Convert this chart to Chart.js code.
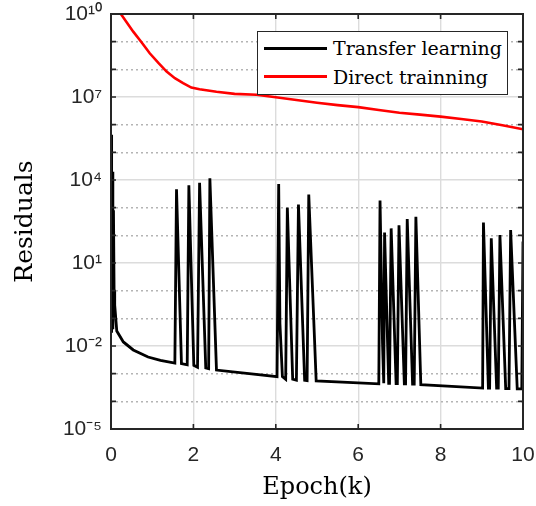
<!DOCTYPE html>
<html>
<head>
<meta charset="utf-8">
<script src="https://cdn.jsdelivr.net/npm/chart.js@4.4.1/dist/chart.umd.min.js"></script>
<style>
  body { margin: 0; background: #fff; }
  #wrap { position: relative; width: 536px; height: 506px; }
  #legend {
    position: absolute; left: 257px; top: 31px; width: 249px; height: 60px;
    border: 1.6px solid #262626; background: #fff; padding-top: 2px;
    font-family: "DejaVu Serif", serif; font-size: 19px; color: #000;
  }
  #legend .row { display: flex; align-items: center; height: 28.4px; }
  #legend .swatch { width: 63px; height: 0; border-top: 3px solid; margin: 0 6px 0 6px; }
</style>
</head>
<body>
<div id="wrap">
  <canvas id="chart" width="536" height="506"></canvas>
  <div id="legend"></div>
</div>
<script>
// series names / colours
const seriesNames = ['Transfer learning', 'Direct trainning'];
const seriesColors = ['#000000', '#ff0000'];

// Transfer learning: epoch (k) and residual
const transferEpoch = [
  0, 0.015, 0.03, 0.045, 0.06, 0.075, 0.09, 0.14, 0.30, 0.54, 0.90, 1.20, 1.55,
  1.59, 1.71, 1.85, 1.89, 2.01, 2.10, 2.15, 2.30, 2.37, 2.40, 2.56,
  4.03, 4.07, 4.10, 4.16, 4.24, 4.28, 4.41, 4.50, 4.55, 4.70, 4.76, 4.80, 4.98,
  6.50, 6.53, 6.59, 6.62, 6.64, 6.74, 6.76, 6.80, 6.92, 6.95, 6.99, 7.12, 7.15, 7.19, 7.32, 7.36, 7.40, 7.52,
  9.02, 9.04, 9.16, 9.19, 9.23, 9.36, 9.40, 9.44, 9.58, 9.66, 9.70, 9.86, 9.97, 10.0
];
const transferResidual = [
  4.3e5, 3.0e-2, 2.0e4, 4.0e-2, 8.0e2, 1.0, 3.0e-1, 3.5e-2, 1.4e-2, 7.2e-3, 4.0e-3, 3.0e-3, 2.4e-3,
  4.6e3, 2.3e-3, 2.1e-3, 6.5e3, 2.0e-3, 1.7e-3, 7.9e3, 1.6e-3, 1.5e-3, 1.15e4, 1.35e-3,
  7.8e-4, 7.2e3, 6.6e-2, 7.9e-4, 6.3e-4, 1.0e3, 6.3e-4, 5.8e-4, 1.3e3, 5.8e-4, 5.6e-4, 3.0e3, 5.5e-4,
  4.3e-4, 1.8e3, 1.3e-2, 4.5e-4, 126, 4.5e-4, 4.5e-4, 178, 4.4e-4, 4.4e-4, 229, 4.3e-4, 4.3e-4, 389, 4.2e-4, 4.2e-4, 468, 4.0e-4,
  3.0e-4, 288, 3.0e-4, 3.0e-4, 78, 3.0e-4, 3.0e-4, 102, 2.9e-4, 2.9e-4, 155, 2.8e-4, 2.8e-4, 60
];

// Direct training: epoch (k) and residual
const directEpoch = [
  0, 0.24, 0.54, 0.75, 0.94, 1.15, 1.35, 1.55, 1.75, 1.95, 2.15, 2.56, 3.0, 3.53,
  4.0, 4.5, 5.0, 5.5, 6.0, 6.5, 7.0, 7.5, 8.0, 8.5, 9.0, 9.5, 10.0
];
const directResidual = [
  3.2e10, 1.0e10, 2.3e9, 9.1e8, 3.8e8, 1.7e8, 8.3e7, 4.8e7, 3.2e7, 2.2e7, 1.9e7, 1.55e7, 1.3e7, 1.2e7,
  9.8e6, 7.8e6, 6.2e6, 5.1e6, 4.3e6, 3.4e6, 2.7e6, 2.3e6, 1.95e6, 1.6e6, 1.3e6, 9.5e5, 6.8e5
];

// axis ticks
const xTicks = [0, 2, 4, 6, 8, 10];
const yExponents = [-5, -4, -3, -2, -1, 0, 1, 2, 3, 4, 5, 6, 7, 8, 9, 10];
const yLabelled = [-5, -2, 1, 4, 7, 10];

const supMap = {'-': '\u207B', '0': '\u2070', '1': '\u00B9', '2': '\u00B2', '3': '\u00B3', '4': '\u2074',
  '5': '\u2075', '6': '\u2076', '7': '\u2077', '8': '\u2078', '9': '\u2079'};
function sup(n) { return String(n).split('').map(c => supMap[c]).join(''); }

function zip(xs, ys) { return xs.map((x, i) => ({x: x, y: ys[i]})); }

const axisColor = '#262626';

// frame around plot with inward ticks
const boxPlugin = {
  id: 'box',
  afterDraw(chart) {
    const {ctx, chartArea: a, scales} = chart;
    ctx.save();
    ctx.strokeStyle = axisColor;
    ctx.lineWidth = 1.6;
    ctx.beginPath();
    yExponents.forEach(e => {
      const y = scales.y.getPixelForValue(Math.pow(10, e));
      ctx.moveTo(a.left, y); ctx.lineTo(a.left + 5, y);
      ctx.moveTo(a.right, y); ctx.lineTo(a.right - 5, y);
    });
    xTicks.forEach(v => {
      const x = scales.x.getPixelForValue(v);
      ctx.moveTo(x, a.bottom); ctx.lineTo(x, a.bottom - 5);
      ctx.moveTo(x, a.top); ctx.lineTo(x, a.top + 5);
    });
    ctx.stroke();
    ctx.lineWidth = 2;
    ctx.strokeRect(a.left, a.top, a.right - a.left, a.bottom - a.top);
    ctx.restore();
  }
};

new Chart(document.getElementById('chart'), {
  type: 'line',
  data: {
    datasets: [
      {label: seriesNames[0], data: zip(transferEpoch, transferResidual), borderColor: seriesColors[0], borderWidth: 2.8},
      {label: seriesNames[1], data: zip(directEpoch, directResidual), borderColor: seriesColors[1], borderWidth: 2.6}
    ]
  },
  options: {
    responsive: false,
    animation: false,
    layout: {padding: {top: 14, right: 13, left: 0, bottom: 0}},
    elements: {point: {radius: 0}, line: {tension: 0}},
    plugins: {legend: {display: false}, tooltip: {enabled: false}},
    scales: {
      x: {
        type: 'linear', min: 0, max: 10,
        afterBuildTicks: s => { s.ticks = xTicks.map(v => ({value: v})); },
        afterFit: s => { s.height = 77; s.paddingLeft = 0; s.paddingRight = 0; },
        ticks: {color: axisColor, padding: 14, font: {family: 'Liberation Sans', size: 21}},
        grid: {color: '#dcdcdc', lineWidth: 1.4, drawTicks: false},
        border: {display: false},
        title: {display: true, text: 'Epoch(k)', color: '#000', padding: {top: 0, bottom: 4},
          font: {family: 'DejaVu Serif', size: 24}}
      },
      y: {
        type: 'logarithmic', min: 1e-5, max: 1e10,
        afterBuildTicks: s => { s.ticks = yExponents.map(e => ({value: Math.pow(10, e)})); },
        afterFit: s => { s.width = 111; s.paddingTop = 0; s.paddingBottom = 0; },
        ticks: {
          color: axisColor, padding: 9, autoSkip: false,
          font: {family: 'Liberation Sans', size: 21},
          callback: (v, i) => yLabelled.includes(yExponents[i]) ? '10' + sup(yExponents[i]) : ''
        },
        grid: {
          drawTicks: false,
          color: c => yLabelled.includes(yExponents[c.index]) ? '#dcdcdc' : '#b4b4b4',
          lineWidth: 1.4
        },
        border: {display: false, dash: c => yLabelled.includes(yExponents[c.index]) ? [] : [2, 3]},
        title: {display: true, text: 'Residuals', color: '#000', padding: {top: 10, bottom: 0},
          font: {family: 'DejaVu Serif', size: 25}}
      }
    }
  },
  plugins: [boxPlugin]
});

// legend box drawn over the plot
const legend = document.getElementById('legend');
seriesNames.forEach((name, i) => {
  const row = document.createElement('div');
  row.className = 'row';
  const sw = document.createElement('span');
  sw.className = 'swatch';
  sw.style.borderColor = seriesColors[i];
  const txt = document.createElement('span');
  txt.textContent = name;
  row.appendChild(sw);
  row.appendChild(txt);
  legend.appendChild(row);
});
</script>
</body>
</html>
